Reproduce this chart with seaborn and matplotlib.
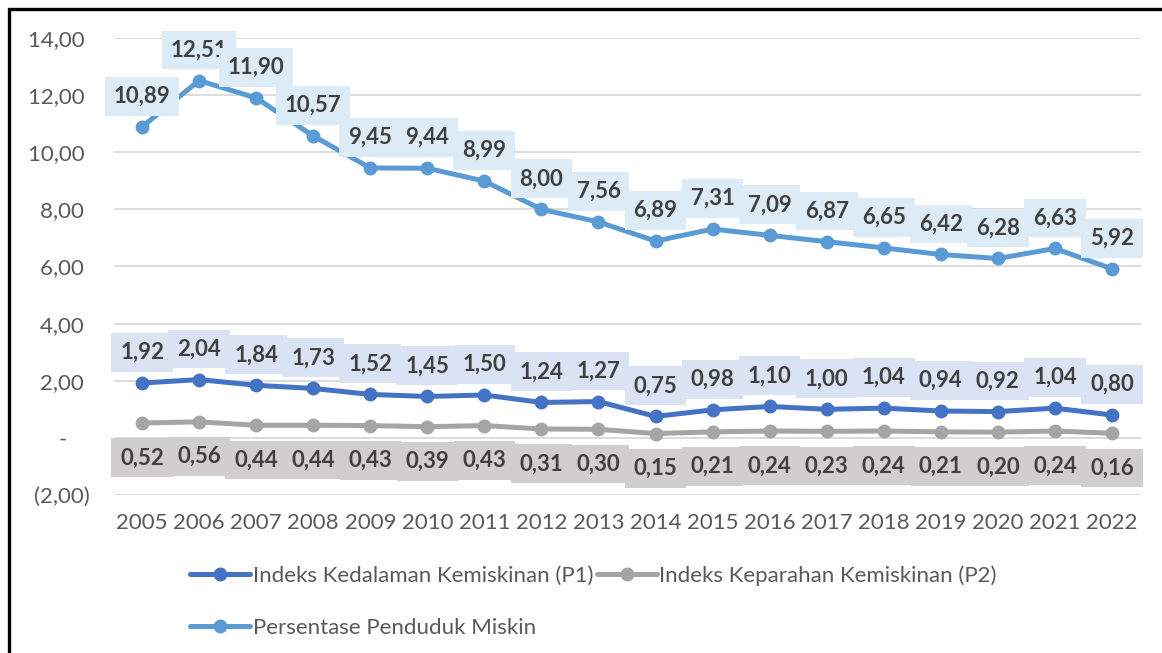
import pandas as pd
import matplotlib.pyplot as plt
import seaborn as sns
from matplotlib.lines import Line2D

# Data
years = list(range(2005, 2023))
persentase = [10.89, 12.51, 11.90, 10.57, 9.45, 9.44, 8.99, 8.00, 7.56, 6.89,
              7.31, 7.09, 6.87, 6.65, 6.42, 6.28, 6.63, 5.92]
p1 = [1.92, 2.04, 1.84, 1.73, 1.52, 1.45, 1.50, 1.24, 1.27, 0.75,
      0.98, 1.10, 1.00, 1.04, 0.94, 0.92, 1.04, 0.80]
p2 = [0.52, 0.56, 0.44, 0.44, 0.43, 0.39, 0.43, 0.31, 0.30, 0.15,
      0.21, 0.24, 0.23, 0.24, 0.21, 0.20, 0.24, 0.16]
y_ticks = [-2, 0, 2, 4, 6, 8, 10, 12, 14]
y_tick_labels = ["(2,00)", "-    ", "2,00 ", "4,00 ", "6,00 ", "8,00 ",
                 "10,00 ", "12,00 ", "14,00 "]
name_p1 = "Indeks Kedalaman Kemiskinan (P1)"
name_p2 = "Indeks Keparahan Kemiskinan (P2)"
name_pct = "Persentase Penduduk Miskin"

df = pd.DataFrame({"year": years, "pct": persentase, "p1": p1, "p2": p2})

sns.set_theme(style="white")
plt.rcParams["font.family"] = ["Lato", "DejaVu Sans"]

fig = plt.figure(figsize=(11.62, 6.53), dpi=100)
ax = fig.add_axes([0.0977, 0.2420, 0.8838, 0.6998])

text_col = "#404040"
tick_col = "#595959"

# series: (column, name, line colour, label box colour, offset in points)
series = [
    ("pct", name_pct, "#5B9BD5", "#DDEBF7", 22),
    ("p1", name_p1, "#4472C4", "#DAE3F3", 22),
    ("p2", name_p2, "#A5A5A5", "#D0CECE", -25),
]

for col, name, color, box, off in series:
    sns.lineplot(data=df, x="year", y=col, ax=ax, color=color, lw=3.6,
                 marker="o", markersize=10, markeredgewidth=0, label=name,
                 zorder=3)
    for x, v in zip(df["year"], df[col]):
        ax.annotate(f"{v:.2f}".replace(".", ","), (x, v),
                    xytext=(0, off), textcoords="offset points",
                    ha="center", va="center", fontsize=16,
                    fontweight="bold", color=text_col, zorder=4,
                    bbox=dict(boxstyle="square,pad=0.4", fc=box, ec="none"))

ax.set_xlim(2004.5, 2022.5)
ax.set_ylim(-2, 14)
ax.set_xticks(years)
ax.set_xticklabels([str(y) for y in years])
ax.set_yticks(y_ticks)
ax.set_yticklabels(y_tick_labels)
ax.tick_params(axis="both", length=0, labelsize=16, labelcolor=tick_col)
ax.tick_params(axis="x", pad=13)
ax.tick_params(axis="y", pad=17)
ax.grid(axis="y", color="#D9D9D9", lw=1.3)
ax.set_axisbelow(True)
for s in ax.spines.values():
    s.set_visible(False)
ax.set_xlabel("")
ax.set_ylabel("")

# legend: row 1 -> P1, P2 ; row 2 -> Persentase
handles, labels = ax.get_legend_handles_labels()
lookup = dict(zip(labels, handles))
order = [name_p1, name_pct, name_p2]
ax.legend([lookup[n] for n in order], order, ncol=2, frameon=False,
          loc="upper left", bbox_to_anchor=(190 / 1162, 1 - 565 / 653),
          bbox_transform=fig.transFigure, fontsize=16, labelcolor=tick_col,
          handlelength=2.7, handletextpad=0.12, columnspacing=0.15,
          labelspacing=1.45, borderpad=0, borderaxespad=0)

# outer frame (top and left edges visible)
fig.add_artist(Line2D([9 / 1162, 1], [1 - 9 / 653] * 2, color="black", lw=2.4,
                      transform=fig.transFigure))
fig.add_artist(Line2D([9 / 1162] * 2, [0, 1 - 9 / 653], color="black", lw=2.4,
                      transform=fig.transFigure))

fig.savefig("out.png", dpi=100)
